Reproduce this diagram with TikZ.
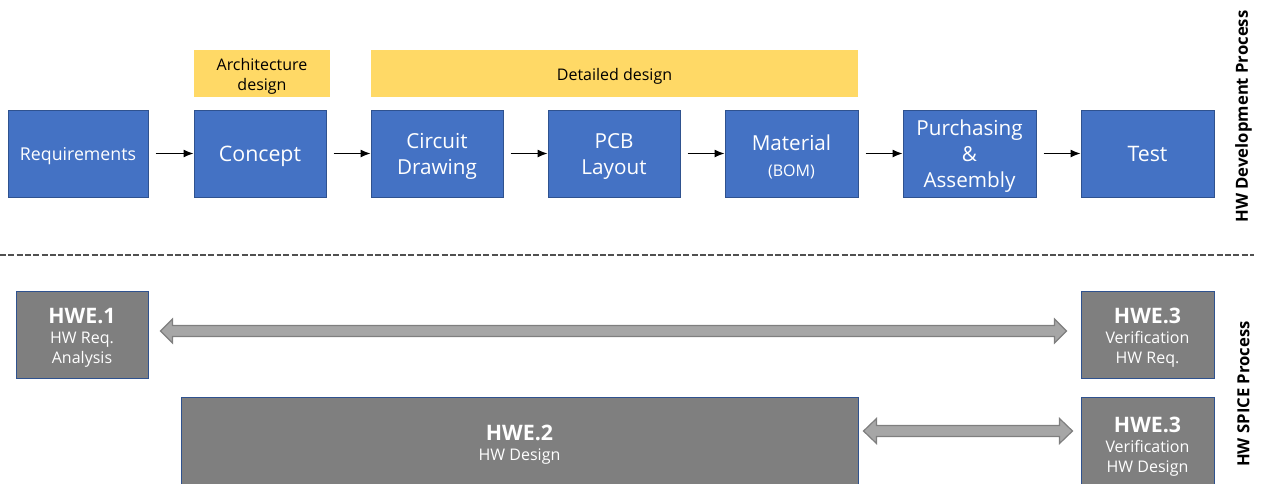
\documentclass[tikz,border=0pt]{standalone}
\usepackage{fontspec}
\setmainfont{Open Sans}
\usetikzlibrary{arrows.meta,calc}
\definecolor{boxblue}{HTML}{4472C4}
\definecolor{boxedge}{HTML}{2F528F}
\definecolor{band}{HTML}{FFD966}
\definecolor{spice}{HTML}{7F7F7F}
\definecolor{fat}{HTML}{A6A6A6}
\definecolor{fatedge}{HTML}{7F7F7F}
\definecolor{sep}{HTML}{505050}
\tikzset{
  bw/.style={minimum width=#1*0.75pt},
  bh/.style={minimum height=#1*0.75pt},
  devbox/.style={draw=boxedge, line width=0.75pt, fill=boxblue, bh=87, inner sep=0pt},
  bandbox/.style={fill=band, bh=47, inner sep=0pt},
  spicebox/.style={draw=boxedge, line width=0.75pt, fill=spice, inner sep=0pt},
  devtext/.style={text=white, align=center, inner sep=0pt, yshift=-2.25pt,
    font=\fontsize{15.5}{19.5}\selectfont},
  bandtext/.style={text=black, align=center, inner sep=0pt, yshift=-2.25pt,
    font=\fontsize{12}{15}\selectfont},
  spicetext/.style={text=white, align=center, inner sep=0pt, yshift=-2.25pt,
    font=\fontsize{12}{15}\selectfont},
  flow/.style={draw=black, line width=0.9pt, -{Latex[length=7.5pt,width=6pt]}, shorten <=5.25pt},
  fatarrow/.style={fill=fat, draw=fatedge, line width=0.9pt, line join=miter},
  sidelabel/.style={rotate=90, font=\bfseries\fontsize{12.5}{14}\selectfont, text=black}
}
\newcommand{\hwetitle}[1]{{\bfseries\fontsize{16}{20}\selectfont #1}}
\begin{document}
\begin{tikzpicture}[x=0.75pt,y=-0.75pt]
\useasboundingbox (0,0) rectangle (1261,483);

% top row
\node[devbox, bw=140, label={[devtext, name=req-t, font=\fontsize{13.3}{16}\selectfont]center:Requirements}] (req) at (78,153.5) {};
\node[devbox, bw=132, label={[devtext, name=con-t, font=\fontsize{16}{19.5}\selectfont]center:Concept}] (con) at (260,153.5) {};
\node[devbox, bw=132, label={[devtext, name=cir-t]center:Circuit\\Drawing}] (cir) at (437,153.5) {};
\node[devbox, bw=132, label={[devtext, name=pcb-t]center:PCB\\Layout}] (pcb) at (614,153.5) {};
\node[devbox, bw=133, label={[devtext, name=mat-t]center:Material\\{\fontsize{12}{15}\selectfont (BOM)}}] (mat) at (791.5,153.5) {};
\node[devbox, bw=133, label={[devtext, name=pur-t]center:Purchasing\\\&\\Assembly}] (pur) at (969.5,153.5) {};
\node[devbox, bw=133, label={[devtext, name=tst-t, yshift=1.9pt, font=\fontsize{16}{19.5}\selectfont]center:Test}] (tst) at (1147.5,153.5) {};

\node[bandbox, bw=136, label={[bandtext, name=arch-t]center:Architecture\\design}] (arch) at (262,73.5) {};
\node[bandbox, bw=487, label={[bandtext, name=det-t]center:Detailed design}] (det) at (614.5,73.5) {};

\draw[flow] (req) -- (con);
\draw[flow] (con) -- (cir);
\draw[flow] (cir) -- (pcb);
\draw[flow] (pcb) -- (mat);
\draw[flow] (mat) -- (pur);
\draw[flow] (pur) -- (tst);

% separator
\draw[sep, line width=1.5pt, dash pattern=on 4.5pt off 1.75pt] (0,255) -- (1254,255);

% side labels
\node[sidelabel] (lab1) at (1243.5,116.5) {HW Development Process};
\node[sidelabel] (lab2) at (1243.5,394) {HW SPICE Process};

% SPICE boxes
\node[spicebox, bw=132, bh=87, label={[spicetext, name=hwe1-t]center:\hwetitle{HWE.1}\\HW Req.\\Analysis}] (hwe1) at (82,334.5) {};
\node[spicebox, bw=133, bh=87, label={[spicetext, name=hwe3a-t]center:\hwetitle{HWE.3}\\Verification\\HW Req.}] (hwe3a) at (1147.5,334.5) {};
\node[spicebox, bw=677, bh=89, label={[spicetext, name=hwe2-t]center:\hwetitle{HWE.2}\\HW Design}] (hwe2) at (519.5,441.5) {};
\node[spicebox, bw=133, bh=89, label={[spicetext, name=hwe3b-t, yshift=-1.5pt]center:\hwetitle{HWE.3}\\Verification\\HW Design}] (hwe3b) at (1147.5,441.5) {};

% fat double arrows
\coordinate (a1) at ($(hwe1.east)+(12,-3.5)$);
\coordinate (a2) at ($(hwe3a.west)+(-14,-3.5)$);
\path[fatarrow] (a1) -- ($(a1)+(12,-12)$) -- ($(a1)+(12,-5.5)$) -- ($(a2)+(-12,-5.5)$)
  -- ($(a2)+(-12,-12)$) -- (a2) -- ($(a2)+(-12,12)$) -- ($(a2)+(-12,5.5)$)
  -- ($(a1)+(12,5.5)$) -- ($(a1)+(12,12)$) -- cycle;
\coordinate (b1) at ($(hwe2.east)+(5,-10.5)$);
\coordinate (b2) at ($(hwe3b.west)+(-8,-10.5)$);
\path[fatarrow] (b1) -- ($(b1)+(13,-12.5)$) -- ($(b1)+(13,-5.5)$) -- ($(b2)+(-13,-5.5)$)
  -- ($(b2)+(-13,-12.5)$) -- (b2) -- ($(b2)+(-13,12.5)$) -- ($(b2)+(-13,5.5)$)
  -- ($(b1)+(13,5.5)$) -- ($(b1)+(13,12.5)$) -- cycle;
\end{tikzpicture}
\end{document}
